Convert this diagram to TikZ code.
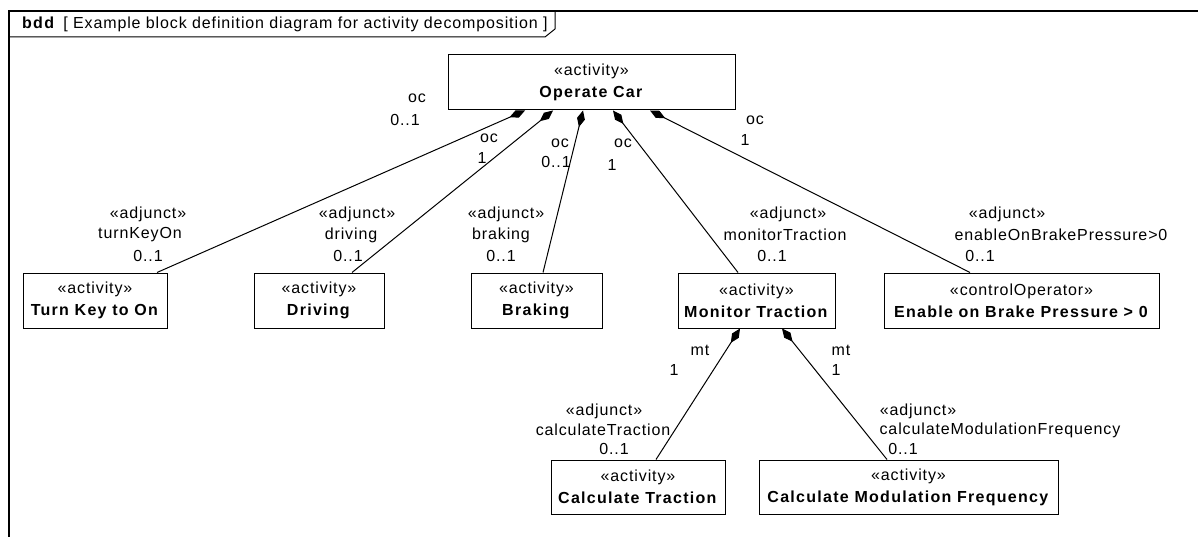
\documentclass[tikz,border=0pt]{standalone}
\usepackage{fontspec}
\setmainfont{Liberation Sans}[LetterSpace=5.5,BoldFeatures={LetterSpace=8}]
\usetikzlibrary{arrows.meta}
\tikzset{
  uml/.style={font=\fontsize{16}{22}\selectfont, inner sep=0pt},
  block/.style={uml, draw, line width=1pt, align=center, minimum height=55},
  compos/.style={{Diamond[length=17pt,width=8pt]}-, line width=1pt},
}
\begin{document}
\begin{tikzpicture}[x=1pt,y=-1pt]
  \useasboundingbox (0,0) rectangle (1198,537);
  \draw[line width=1.5pt] (9,537) -- (9,11) -- (1198,11);
  \draw[line width=1pt] (9,37) -- (545,37) -- (555,29) -- (555,11);
  \node[uml,anchor=west] (hdr) at (22,24) {\textbf{bdd}\hspace{8pt}[ Example block definition diagram for activity decomposition ]};

  \node[block,minimum width=287] (oc) at (591.5,82.5) {«activity»\\\textbf{Operate Car}};
  \node[block,minimum width=144] (tko) at (95,300.5) {«activity»\\\textbf{Turn Key to On}};
  \node[block,minimum width=130] (drv) at (319,300.5) {«activity»\\\textbf{Driving}};
  \node[block,minimum width=131] (brk) at (536.5,300.5) {«activity»\\\textbf{Braking}};
  \node[block,minimum width=157] (mtr) at (756.5,300.5) {«activity»\\\textbf{Monitor Traction}};
  \node[block,minimum width=275] (ebp) at (1021.5,300.5) {«controlOperator»\\\textbf{Enable on Brake Pressure > 0}};
  \node[block,minimum width=174,minimum height=54] (ctr) at (638,487) {«activity»\\\textbf{Calculate Traction}};
  \node[block,minimum width=299,minimum height=54] (cmf) at (908.5,487) {«activity»\\\textbf{Calculate Modulation Frequency}};

  \draw[compos] ([xshift=-66.5]oc.south) -- ([xshift=62]tko.north);
  \draw[compos] ([xshift=-38.5]oc.south) -- ([xshift=33]drv.north);
  \draw[compos] ([xshift=-8.5]oc.south) -- ([xshift=6.5]brk.north);
  \draw[compos] ([xshift=21.5]oc.south) -- ([xshift=-18.5]mtr.north);
  \draw[compos] ([xshift=58.5]oc.south) -- ([xshift=-51.5]ebp.north);
  \draw[compos] ([xshift=-16.5]mtr.south) -- ([xshift=18]ctr.north);
  \draw[compos] ([xshift=25.5]mtr.south) -- ([xshift=-21.5]cmf.north);

  \node[uml] (tko-role) at (417,98) {oc};
  \node[uml] (tko-mult) at (405,120) {0..1};
  \node[uml] (drv-role) at (489,138) {oc};
  \node[uml] (drv-mult) at (482,158) {1};
  \node[uml] (brk-role) at (560,143) {oc};
  \node[uml] (brk-mult) at (556,162) {0..1};
  \node[uml] (mtr-role) at (623,143) {oc};
  \node[uml] (mtr-mult) at (612,165) {1};
  \node[uml] (ebp-role) at (755,120) {oc};
  \node[uml] (ebp-mult) at (745,140) {1};

  \node[uml] (tko-st) at (148,214) {«adjunct»};
  \node[uml] (tko-nm) at (140,235) {turnKeyOn};
  \node[uml] (tko-nr) at (148,256) {0..1};
  \node[uml] (drv-st) at (357,214) {«adjunct»};
  \node[uml] (drv-nm) at (351,235) {driving};
  \node[uml] (drv-nr) at (348,256) {0..1};
  \node[uml] (brk-st) at (506,214) {«adjunct»};
  \node[uml] (brk-nm) at (501,235) {braking};
  \node[uml] (brk-nr) at (501,256) {0..1};
  \node[uml] (mtr-st) at (788,214) {«adjunct»};
  \node[uml] (mtr-nm) at (785,235) {monitorTraction};
  \node[uml] (mtr-nr) at (772,256) {0..1};
  \node[uml] (ebp-st) at (1007,214) {«adjunct»};
  \node[uml] (ebp-nm) at (1061,235) {enableOnBrakePressure>0};
  \node[uml] (ebp-nr) at (980,256) {0..1};

  \node[uml] (ctr-role) at (700,350) {mt};
  \node[uml] (ctr-mult) at (674,370) {1};
  \node[uml] (cmf-role) at (841,350) {mt};
  \node[uml] (cmf-mult) at (836,370) {1};
  \node[uml] (ctr-st) at (604,411) {«adjunct»};
  \node[uml] (ctr-nm) at (603,430) {calculateTraction};
  \node[uml] (ctr-nr) at (614,449) {0..1};
  \node[uml] (cmf-st) at (918,411) {«adjunct»};
  \node[uml] (cmf-nm) at (1000,430) {calculateModulationFrequency};
  \node[uml] (cmf-nr) at (903,449) {0..1};
\end{tikzpicture}
\end{document}
